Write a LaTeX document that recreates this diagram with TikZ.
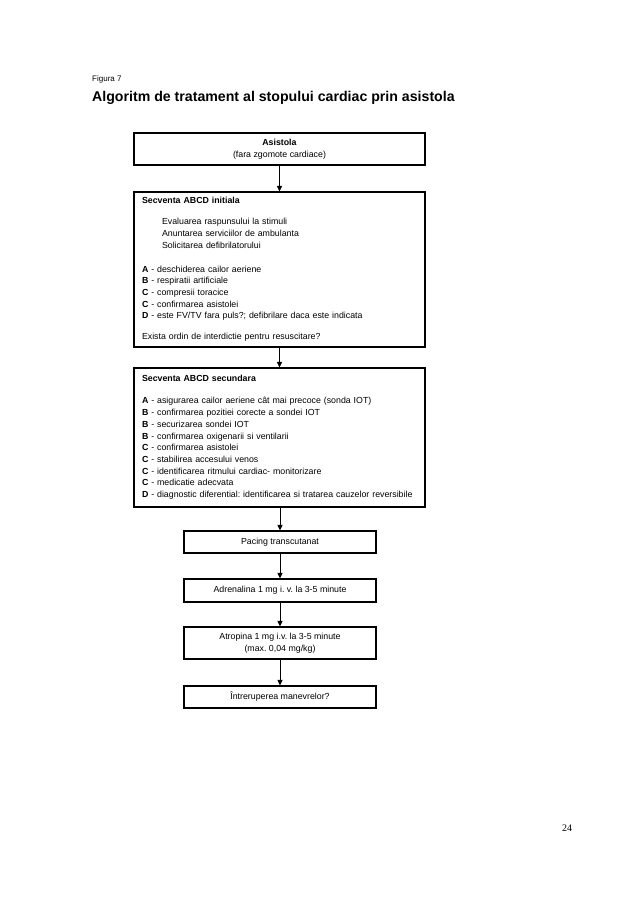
\documentclass[tikz,border=0pt]{standalone}
\usepackage{fontspec}
\setmainfont{Liberation Sans}
\newfontfamily\serifpn{Liberation Serif}
\usetikzlibrary{arrows.meta}
\frenchspacing
\begin{document}
\begin{tikzpicture}[x=1pt,y=-1pt,
  box/.style={draw, line width=1.1pt, inner sep=0pt, align=center,
    font=\fontsize{8.8}{11.7}\selectfont},
  bigbox/.style={box, minimum width=291pt, text width=275pt, align=left},
  smallbox/.style={box, minimum width=192pt},
  arr/.style={draw, line width=0.9pt, -{Triangle[length=5.5pt,width=5pt]}},
  lbl/.style={inner sep=0pt, anchor=base west}]
\useasboundingbox[fill=white] (0,0) rectangle (638,903);

\node[lbl, font=\fontsize{8}{9.6}\selectfont] (fig) at (92,81) {Figura 7};
\node[lbl, font=\fontsize{14.15}{16}\selectfont\bfseries] (title) at (92,101.5)
  {Algoritm de tratament al stopului cardiac prin asistola};

\node[box, minimum width=291pt, minimum height=32pt] (b1) at (279.5,149)
  {\textbf{Asistola}\\(fara zgomote cardiace)};

\node[bigbox, minimum height=155pt] (b2) at (279.5,269.5)
  {\textbf{Secventa ABCD initiala}\\[9.3pt]
   \hspace*{20pt}Evaluarea raspunsului la stimuli\\
   \hspace*{20pt}Anuntarea serviciilor de ambulanta\\
   \hspace*{20pt}Solicitarea defibrilatorului\\[12.3pt]
   \textbf{A} - deschiderea cailor aeriene\\
   \textbf{B} - respiratii artificiale\\
   \textbf{C} - compresii toracice\\
   \textbf{C} - confirmarea asistolei\\
   \textbf{D} - este FV/TV fara puls?; defibrilare daca este indicata\\[9.3pt]
   Exista ordin de interdictie pentru resuscitare?};

\node[bigbox, minimum height=139pt] (b3) at (279.5,437.5)
  {\textbf{Secventa ABCD secundara}\\[10.3pt]
   \textbf{A} - asigurarea cailor aeriene cât mai precoce (sonda IOT)\\
   \textbf{B} - confirmarea pozitiei corecte a sondei IOT\\
   \textbf{B} - securizarea sondei IOT\\
   \textbf{B} - confirmarea oxigenarii si ventilarii\\
   \textbf{C} - confirmarea asistolei\\
   \textbf{C} - stabilirea accesului venos\\
   \textbf{C} - identificarea ritmului cardiac- monitorizare\\
   \textbf{C} - medicatie adecvata\\
   \textbf{D} - diagnostic diferential: identificarea si tratarea cauzelor reversibile};

\node[smallbox, minimum height=22pt] (b4) at (280,542) {Pacing transcutanat};
\node[smallbox, minimum height=23pt] (b5) at (280,590.5) {Adrenalina 1 mg i. v. la 3-5 minute};
\node[smallbox, minimum height=32pt] (b6) at (280,643) {Atropina 1 mg i.v. la 3-5 minute\\(max. 0,04 mg/kg)};
\node[smallbox, minimum height=22pt] (b7) at (280,697) {Întreruperea manevrelor?};

\draw[arr] (b1.south) -- (b2.north);
\draw[arr] (b2.south) -- (b3.north);
\draw[arr] (b3.south -| b4.north) -- (b4.north);
\draw[arr] (b4) -- (b5);
\draw[arr] (b5) -- (b6);
\draw[arr] (b6) -- (b7);

\node[inner sep=0pt, font=\serifpn\fontsize{10}{12}\selectfont] (pg) at (567,828) {24};
\end{tikzpicture}
\end{document}
